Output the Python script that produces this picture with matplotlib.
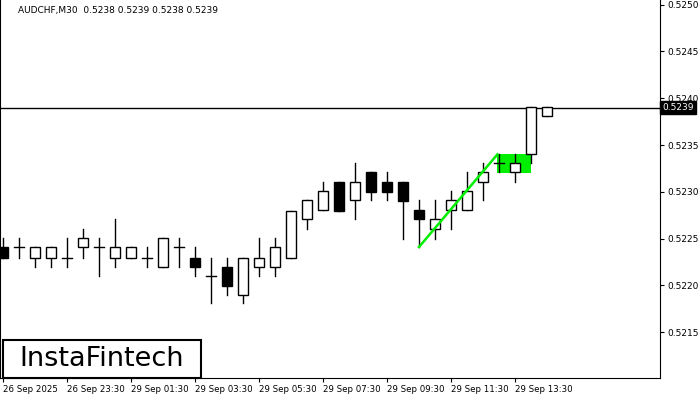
import matplotlib
matplotlib.use("Agg")
import matplotlib.pyplot as plt
from matplotlib.patches import Rectangle

opens  = [.52241,.52241,.52229,.52229,.52229,.52241,.52241,.52229,.52229,.52229,.52220,.52241,.52229,.52210,.52220,.52190,.52220,.52220,
          .52229,.52271,.52281,.52311,.52291,.52321,.52311,.52311,.52281,.52260,.52281,.52281,.52311,.52331,.52321,.52340,.52381]
highs  = [.52251,.52251,.52241,.52241,.52251,.52260,.52251,.52271,.52241,.52241,.52251,.52251,.52241,.52229,.52229,.52229,.52251,.52251,
          .52280,.52291,.52311,.52311,.52331,.52321,.52321,.52311,.52291,.52291,.52301,.52321,.52331,.52340,.52340,.52391,.52391]
lows   = [.52229,.52229,.52220,.52220,.52220,.52229,.52210,.52220,.52229,.52220,.52220,.52220,.52210,.52181,.52190,.52181,.52210,.52210,
          .52229,.52260,.52281,.52280,.52271,.52291,.52291,.52250,.52241,.52250,.52260,.52281,.52291,.52321,.52311,.52331,.52381]
closes = [.52229,.52241,.52241,.52241,.52229,.52251,.52241,.52241,.52241,.52229,.52251,.52241,.52220,.52210,.52199,.52229,.52229,.52241,
          .52280,.52291,.52301,.52280,.52311,.52300,.52300,.52290,.52271,.52271,.52291,.52301,.52321,.52331,.52331,.52391,.52391]
tick_idx = [0, 4, 8, 12, 16, 20, 24, 28, 32]
tick_labels = ["26 Sep 2025", "26 Sep 23:30", "29 Sep 01:30", "29 Sep 03:30", "29 Sep 05:30",
               "29 Sep 07:30", "29 Sep 09:30", "29 Sep 11:30", "29 Sep 13:30"]
price_ticks = [0.5215, 0.5220, 0.5225, 0.5230, 0.5235, 0.5240, 0.5245, 0.5250]
current = 0.5239
pole = ([26, 30.9], [0.52241, 0.52340])
flag = (30.9, 33.0, 0.52320, 0.52340)

fig = plt.figure(figsize=(7, 4), dpi=100)
ax = fig.add_axes([0, 22/400, 660/700, 378/400])
ax.set_xlim(-0.1875, 41.0625)
ax.set_ylim(0.52101, 0.52505)

ax.add_patch(Rectangle((flag[0], flag[2]), flag[1]-flag[0], flag[3]-flag[2], color="#00ee00", zorder=1, lw=0))
ax.plot(pole[0], pole[1], color="#00ee00", lw=1.8, zorder=4)

w = 0.6
for i, (o, h, l, c) in enumerate(zip(opens, highs, lows, closes)):
    ax.plot([i, i], [l, h], color="black", lw=1, zorder=2)
    bottom, top = min(o, c), max(o, c)
    if top - bottom < 1e-6:
        ax.plot([i - w/2, i + w/2], [o, o], color="black", lw=1, zorder=3)
    else:
        ax.add_patch(Rectangle((i - w/2, bottom), w, top - bottom, facecolor="black" if c < o else "white",
                               edgecolor="black", lw=1, zorder=3))

ax.axhline(current, color="black", lw=1, zorder=1)

ax.yaxis.tick_right()
ax.set_yticks(price_ticks)
ax.set_yticklabels([f"{p:.4f}" for p in price_ticks], fontsize=6.5)
ax.tick_params(axis="y", length=3, pad=2)
ax.set_xticks(tick_idx)
ax.set_xticklabels(tick_labels, fontsize=6.2, ha="left")
ax.tick_params(axis="x", length=3, pad=2)
ax.spines["top"].set_visible(False)
for s in ["left", "right", "bottom"]:
    ax.spines[s].set_color("black")
    ax.spines[s].set_linewidth(0.8)

ax.text(1.003, current, f"{current:.4f}", transform=ax.get_yaxis_transform(), fontsize=6.5, color="white",
        va="center", ha="left", bbox=dict(facecolor="black", edgecolor="black", pad=1.5), zorder=10, clip_on=False)

fig.text(18/700, 1 - 11/400, "AUDCHF,M30  0.5238 0.5239 0.5238 0.5239", fontsize=6.5, va="center", ha="left")

fig.patches.append(Rectangle((3/700, 22/400), 198/700, 38/400, transform=fig.transFigure,
                             facecolor="white", edgecolor="black", lw=1.5, zorder=5))
fig.text(102/700, 1 - 359/400, "InstaFintech", fontsize=19.5, va="center", ha="center", zorder=6)

fig.savefig("out.png", dpi=100)
